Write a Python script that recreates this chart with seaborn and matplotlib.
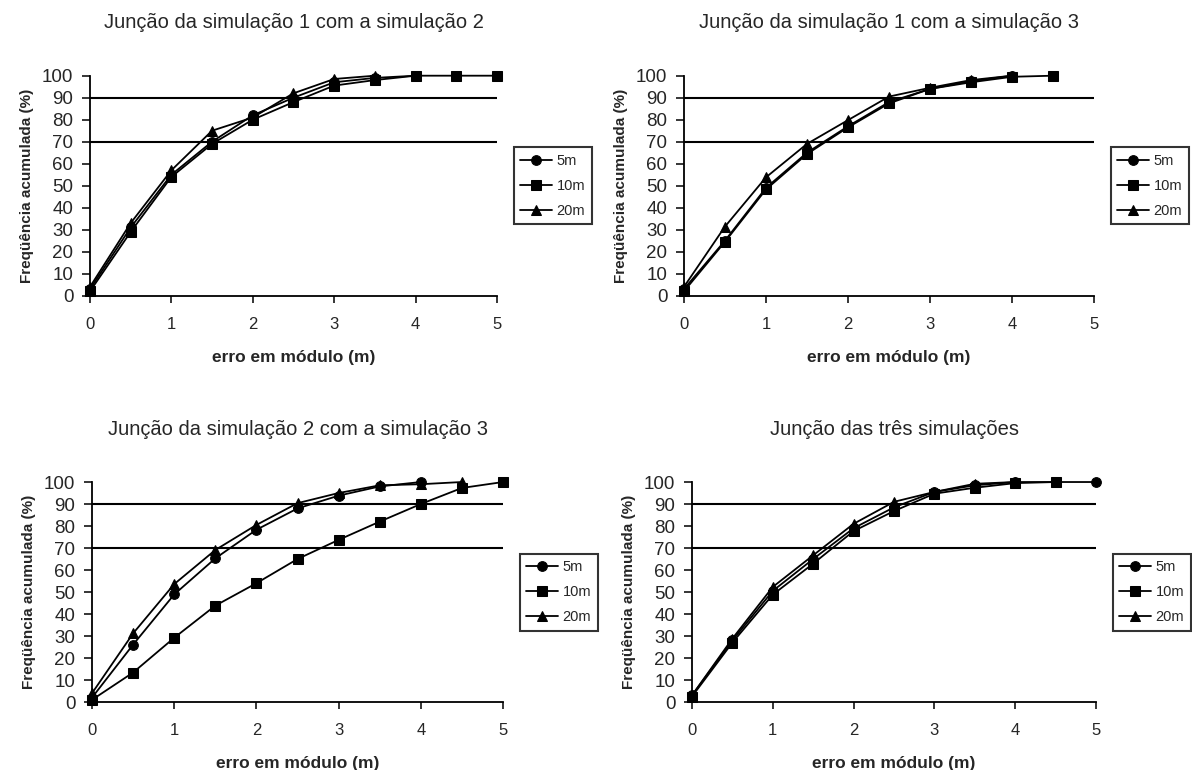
import numpy as np
import pandas as pd
import seaborn as sns
import matplotlib
matplotlib.use("Agg")
import matplotlib.pyplot as plt

# error classes (m)
erro = [0, 0.5, 1, 1.5, 2, 2.5, 3, 3.5, 4, 4.5, 5]

titles = [
    "Junção da simulação 1 com a simulação 2",
    "Junção da simulação 1 com a simulação 3",
    "Junção da simulação 2 com a simulação 3",
    "Junção das três simulações",
]

# cumulative frequency (%) per panel, series 5m / 10m / 20m
p1_5m = [3, 31, 55, 70, 82, 90, 97, 99, 100]
p1_10m = [2, 29, 54, 69, 80, 88, 95.5, 98, 100, 100, 100]
p1_20m = [4, 33, 57, 75, 81, 92, 98.5, 100]

p2_5m = [3, 25, 49, 65, 77, 88, 94, 97.5, 100]
p2_10m = [2, 24.5, 48.3, 64.4, 76.5, 87.4, 94, 97, 99.5, 100]
p2_20m = [4, 31.4, 53.8, 69, 79.8, 90.5, 94.5, 98, 100]

p3_5m = [2, 26.1, 48.9, 65.3, 78.3, 88, 93.8, 98, 100]
p3_10m = [1, 13.4, 29.2, 43.8, 54, 65, 73.7, 82, 90, 97.3, 100]
p3_20m = [4, 31.2, 53.6, 69.1, 80.5, 90.4, 95, 98.5, 99, 100]

p4_5m = [3, 28, 50.5, 65, 79, 88.5, 95.5, 98.5, 100, 100, 100]
p4_10m = [2.5, 27, 48.8, 62.9, 77.7, 86.8, 94.7, 97.4, 99.5, 100]
p4_20m = [3, 28.8, 52.3, 66.7, 81, 91, 95.5, 99.2, 100]

panels = [
    (p1_5m, p1_10m, p1_20m),
    (p2_5m, p2_10m, p2_20m),
    (p3_5m, p3_10m, p3_20m),
    (p4_5m, p4_10m, p4_20m),
]
series = ["5m", "10m", "20m"]
markers = {"5m": "o", "10m": "s", "20m": "^"}

sns.set_style("white")
plt.rcParams["font.family"] = ["Liberation Sans", "DejaVu Sans"]

fig = plt.figure(figsize=(11.92, 7.70), dpi=100)
boxes = [
    [0.0755, 0.616, 0.3414, 0.2857],
    [0.5738, 0.616, 0.344, 0.2857],
    [0.0772, 0.0883, 0.3448, 0.2857],
    [0.5805, 0.0883, 0.339, 0.2857],
]

for box, title, vals in zip(boxes, titles, panels):
    ax = fig.add_axes(box)
    rows = []
    for name, v in zip(series, vals):
        for x, y in zip(erro, v):
            rows.append({"erro": x, "freq": y, "serie": name})
    df = pd.DataFrame(rows)

    ax.axhline(70, color="black", lw=1.5, zorder=1)
    ax.axhline(90, color="black", lw=1.5, zorder=1)

    sns.lineplot(data=df, x="erro", y="freq", style="serie", markers=markers,
                 dashes=False, color="black", lw=1.3, markersize=7,
                 markeredgecolor="black", ax=ax, clip_on=False, zorder=3)

    ax.set_xlim(0, 5)
    ax.set_ylim(0, 100)
    ax.set_xticks(range(0, 6))
    ax.set_yticks(range(0, 101, 10))
    ax.tick_params(axis="y", labelsize=13.5, direction="out", length=6,
                   width=1.3, pad=6, left=True)
    ax.tick_params(axis="x", labelsize=12, direction="out", length=5,
                   width=1.3, pad=10, bottom=True)
    for s in ["top", "right"]:
        ax.spines[s].set_visible(False)
    for s in ["left", "bottom"]:
        ax.spines[s].set_color("black")
        ax.spines[s].set_linewidth(1.3)

    ax.set_title(title, fontsize=14.5, pad=34)
    ax.set_xlabel("erro em módulo (m)", fontsize=12.5, fontweight="bold",
                  labelpad=13)
    ax.set_ylabel("Freqüência acumulada (%)", fontsize=11, fontweight="bold",
                  labelpad=6)

    handles, labels = ax.get_legend_handles_labels()
    leg = ax.legend(handles, labels, loc="center left",
                    bbox_to_anchor=(1.03, 0.5), frameon=True, fancybox=False,
                    fontsize=10.5, handlelength=2.2, handletextpad=0.3,
                    borderpad=0.45, borderaxespad=0.3, labelspacing=0.75)
    leg.get_frame().set_edgecolor("black")
    leg.get_frame().set_linewidth(1.5)

fig.savefig("out.png", dpi=100)
